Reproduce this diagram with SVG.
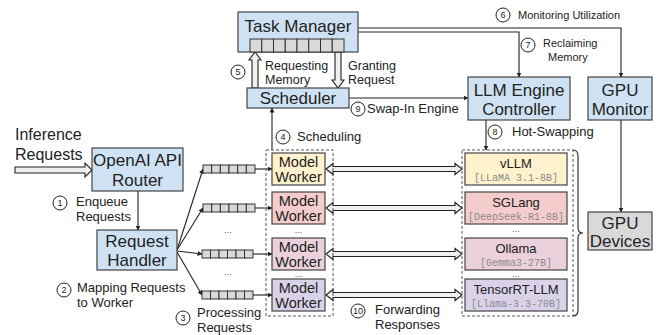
<svg xmlns="http://www.w3.org/2000/svg" width="657" height="335" viewBox="0 0 657 335">
  <defs>
    <marker id="ah" viewBox="0 0 10 10" refX="9" refY="5" markerWidth="5" markerHeight="5" orient="auto-start-reverse" markerUnits="userSpaceOnUse">
      <path d="M0,0 L10,5 L0,10 Z" fill="#222"/>
    </marker>
    <style>
      text { font-family: "Liberation Sans", Arial, sans-serif; fill: #222; }
      .box { stroke: #444; stroke-width: 1.2; }
      .blue { fill: #cfe2f3; }
      .yellow { fill: #fff2cc; }
      .pink { fill: #f4cccc; }
      .mauve { fill: #ead1dc; }
      .lav { fill: #d9d2e9; }
      .gray { fill: #d9d9d9; }
      .big { font-size: 17px; text-anchor: middle; }
      .mid { font-size: 14.5px; text-anchor: middle; }
      .eng { font-size: 13px; text-anchor: middle; }
      .mono { font-family: "Liberation Mono", "Courier New", monospace; font-size: 10px; fill: #8a8a8a; text-anchor: middle; }
      .lbl { font-size: 13px; }
      .lbl2 { font-size: 12.5px; }
      .sm { font-size: 11px; }
      .num { font-size: 9px; text-anchor: middle; }
      .circ { fill: #fff; stroke: #222; stroke-width: 1; }
      .cell { fill: #d9d9d9; stroke: #333; stroke-width: 1; }
      .line { fill: none; stroke: #222; stroke-width: 1.1; }
      .hollow { fill: #f0f0f0; stroke: #222; stroke-width: 1.1; stroke-linejoin: miter; }
      .dash { fill: none; stroke: #555; stroke-width: 1; stroke-dasharray: 3 2; }
      .dots { font-size: 9px; text-anchor: middle; fill: #555; }
    </style>
  </defs>

  <!-- connectors -->
  <g id="connectors">
    <!-- incoming requests -->
    <polygon class="hollow" points="15,167 85,167 85,163 92,170 85,177 85,173 15,173"/>
    <!-- router -> handler -->
    <line class="line" x1="138" y1="191" x2="138" y2="230" marker-end="url(#ah)"/>
    <!-- handler fan-out to queues -->
    <line class="line" x1="177" y1="250" x2="203" y2="169" marker-end="url(#ah)"/>
    <line class="line" x1="177" y1="250" x2="203" y2="208" marker-end="url(#ah)"/>
    <line class="line" x1="177" y1="251" x2="202" y2="254" marker-end="url(#ah)"/>
    <line class="line" x1="177" y1="252" x2="202" y2="295" marker-end="url(#ah)"/>
    <!-- queues -> workers -->
    <line class="line" x1="255" y1="169" x2="272" y2="169" marker-end="url(#ah)"/>
    <line class="line" x1="255" y1="208" x2="272" y2="208" marker-end="url(#ah)"/>
    <line class="line" x1="253" y1="254" x2="272" y2="254" marker-end="url(#ah)"/>
    <line class="line" x1="253" y1="295" x2="272" y2="295" marker-end="url(#ah)"/>
    <!-- scheduling -->
    <line class="line" x1="272" y1="150" x2="272" y2="108" marker-end="url(#ah)"/>
    <!-- requesting memory / granting request -->
    <polygon class="hollow" points="252,88 252,60 249,60 255,52 261,60 258,60 258,88"/>
    <polygon class="hollow" points="335,52 335,80 332,80 338,88 344,80 341,80 341,52"/>
    <!-- monitoring utilization -->
    <polyline class="line" points="358,28 621,28 621,77" marker-end="url(#ah)"/>
    <!-- reclaiming memory -->
    <polyline class="line" points="358,32 519,32 519,77" marker-end="url(#ah)"/>
    <!-- swap-in engine -->
    <line class="line" x1="349" y1="98" x2="468" y2="98" marker-end="url(#ah)"/>
    <!-- hot-swapping -->
    <line class="line" x1="486" y1="120" x2="486" y2="150" marker-end="url(#ah)"/>
    <!-- gpu monitor -> devices -->
    <line class="line" x1="621" y1="120" x2="621" y2="212" marker-end="url(#ah)"/>
    <!-- worker <-> engine -->
    <polygon class="hollow" points="326,169 333,163.5 333,166.5 455,166.5 455,163.5 462,169 455,174.5 455,171.5 333,171.5 333,174.5"/>
    <polygon class="hollow" points="326,208 333,202.5 333,205.5 455,205.5 455,202.5 462,208 455,213.5 455,210.5 333,210.5 333,213.5"/>
    <polygon class="hollow" points="326,254 333,248.5 333,251.5 455,251.5 455,248.5 462,254 455,259.5 455,256.5 333,256.5 333,259.5"/>
    <polygon class="hollow" points="326,295 333,289.5 333,292.5 455,292.5 455,289.5 462,295 455,300.5 455,297.5 333,297.5 333,300.5"/>
    <!-- engines brace -->
    <path class="line" d="M573,150 Q578,150 578,156 L578,228 Q578,233 583,233 Q578,233 578,238 L578,310 Q578,316 573,316"/>
  </g>

  <!-- step labels -->
  <g id="labels">
    <text x="15" y="140" style="font-size:16px">Inference</text>
    <text x="15" y="160" style="font-size:16px">Requests</text>

    <circle class="circ" cx="60" cy="203" r="7"/><text class="num" x="60" y="206">1</text>
    <text class="lbl" x="76" y="206">Enqueue</text>
    <text class="lbl" x="76" y="221">Requests</text>

    <circle class="circ" cx="64" cy="290" r="7"/><text class="num" x="64" y="293">2</text>
    <text class="lbl" x="77" y="292">Mapping Requests</text>
    <text class="lbl" x="77" y="307">to Worker</text>

    <circle class="circ" cx="183" cy="318" r="7"/><text class="num" x="183" y="321">3</text>
    <text class="lbl" x="197" y="317">Processing</text>
    <text class="lbl" x="197" y="332">Requests</text>

    <circle class="circ" cx="283" cy="137" r="7"/><text class="num" x="283" y="140">4</text>
    <text class="lbl" x="297" y="141">Scheduling</text>

    <circle class="circ" cx="238" cy="72" r="7"/><text class="num" x="238" y="75">5</text>
    <text class="lbl2" x="265" y="70">Requesting</text>
    <text class="lbl2" x="265" y="84">Memory</text>
    <text class="lbl2" x="348" y="70">Granting</text>
    <text class="lbl2" x="348" y="84">Request</text>

    <circle class="circ" cx="503" cy="15" r="7"/><text class="num" x="503" y="18">6</text>
    <text class="sm" x="518" y="19">Monitoring Utilization</text>

    <circle class="circ" cx="528" cy="45" r="7"/><text class="num" x="528" y="48">7</text>
    <text class="sm" x="543" y="47">Reclaiming</text>
    <text class="sm" x="548" y="61">Memory</text>

    <circle class="circ" cx="495" cy="132" r="7"/><text class="num" x="495" y="135">8</text>
    <text class="lbl" x="512" y="136">Hot-Swapping</text>

    <circle class="circ" cx="358" cy="109" r="7"/><text class="num" x="358" y="112">9</text>
    <text class="lbl" x="367" y="113">Swap-In Engine</text>

    <circle class="circ" cx="358" cy="311" r="7"/><text class="num" x="358" y="314">10</text>
    <text class="lbl" x="375" y="314">Forwarding</text>
    <text class="lbl" x="375" y="329">Responses</text>
  </g>

  <g id="task-manager">
    <rect class="box blue" x="238" y="12" width="120" height="40"/>
    <text class="big" x="298" y="32">Task Manager</text>
    <g>
      <rect class="cell" x="250" y="39" width="11.75" height="13"/>
      <rect class="cell" x="261.75" y="39" width="11.75" height="13"/>
      <rect class="cell" x="273.5" y="39" width="11.75" height="13"/>
      <rect class="cell" x="285.25" y="39" width="11.75" height="13"/>
      <rect class="cell" x="297" y="39" width="11.75" height="13"/>
      <rect class="cell" x="308.75" y="39" width="11.75" height="13"/>
      <rect class="cell" x="320.5" y="39" width="11.75" height="13"/>
      <rect class="cell" x="332.25" y="39" width="11.75" height="13"/>
    </g>
  </g>

  <g id="scheduler">
    <rect class="box blue" x="247" y="88" width="102" height="20"/>
    <text class="big" x="298" y="104">Scheduler</text>
  </g>

  <g id="llm-engine-controller">
    <rect class="box blue" x="468" y="77" width="102" height="43"/>
    <text class="big" x="519" y="96">LLM Engine</text>
    <text class="big" x="519" y="115">Controller</text>
  </g>

  <g id="gpu-monitor">
    <rect class="box blue" x="588" y="77" width="64" height="43"/>
    <text class="big" x="620" y="96">GPU</text>
    <text class="big" x="620" y="115">Monitor</text>
  </g>

  <g id="router">
    <rect class="box blue" x="92" y="148" width="91" height="43"/>
    <text class="big" x="137.5" y="166">OpenAI API</text>
    <text class="big" x="137.5" y="186">Router</text>
  </g>

  <g id="request-handler">
    <rect class="box blue" x="97" y="230" width="80" height="40"/>
    <text class="big" x="137" y="247">Request</text>
    <text class="big" x="137" y="266">Handler</text>
  </g>

  <g id="queues">
    <g id="queue-1" transform="translate(203,165)">
      <rect class="cell" x="0" y="0" width="8.67" height="8"/><rect class="cell" x="8.67" y="0" width="8.67" height="8"/><rect class="cell" x="17.33" y="0" width="8.67" height="8"/><rect class="cell" x="26" y="0" width="8.67" height="8"/><rect class="cell" x="34.67" y="0" width="8.67" height="8"/><rect class="cell" x="43.33" y="0" width="8.67" height="8"/>
    </g>
    <g id="queue-2" transform="translate(203,204)">
      <rect class="cell" x="0" y="0" width="8.67" height="8"/><rect class="cell" x="8.67" y="0" width="8.67" height="8"/><rect class="cell" x="17.33" y="0" width="8.67" height="8"/><rect class="cell" x="26" y="0" width="8.67" height="8"/><rect class="cell" x="34.67" y="0" width="8.67" height="8"/><rect class="cell" x="43.33" y="0" width="8.67" height="8"/>
    </g>
    <g id="queue-3" transform="translate(202,250)">
      <rect class="cell" x="0" y="0" width="8.5" height="8"/><rect class="cell" x="8.5" y="0" width="8.5" height="8"/><rect class="cell" x="17" y="0" width="8.5" height="8"/><rect class="cell" x="25.5" y="0" width="8.5" height="8"/><rect class="cell" x="34" y="0" width="8.5" height="8"/><rect class="cell" x="42.5" y="0" width="8.5" height="8"/>
    </g>
    <g id="queue-4" transform="translate(202,291)">
      <rect class="cell" x="0" y="0" width="8.5" height="8"/><rect class="cell" x="8.5" y="0" width="8.5" height="8"/><rect class="cell" x="17" y="0" width="8.5" height="8"/><rect class="cell" x="25.5" y="0" width="8.5" height="8"/><rect class="cell" x="34" y="0" width="8.5" height="8"/><rect class="cell" x="42.5" y="0" width="8.5" height="8"/>
    </g>
    <text class="dots" x="228" y="233">...</text>
    <text class="dots" x="228" y="275">...</text>
  </g>

  <g id="model-workers">
    <rect class="dash" x="266" y="150" width="67" height="166"/>
    <g id="worker-1">
      <rect class="box yellow" x="272" y="153" width="53" height="32"/>
      <text class="mid" x="298.5" y="167">Model</text>
      <text class="mid" x="298.5" y="182">Worker</text>
    </g>
    <g id="worker-2">
      <rect class="box pink" x="272" y="192" width="53" height="32"/>
      <text class="mid" x="298.5" y="206">Model</text>
      <text class="mid" x="298.5" y="221">Worker</text>
    </g>
    <g id="worker-3">
      <rect class="box mauve" x="272" y="238" width="53" height="32"/>
      <text class="mid" x="298.5" y="252">Model</text>
      <text class="mid" x="298.5" y="267">Worker</text>
    </g>
    <g id="worker-4">
      <rect class="box lav" x="272" y="279" width="53" height="32"/>
      <text class="mid" x="298.5" y="293">Model</text>
      <text class="mid" x="298.5" y="308">Worker</text>
    </g>
    <text class="dots" x="298.5" y="233">...</text>
    <text class="dots" x="298.5" y="277">...</text>
  </g>

  <g id="engines">
    <rect class="dash" x="462" y="150" width="111" height="166"/>
    <g id="engine-vllm">
      <rect class="box yellow" x="465" y="153" width="102" height="32"/>
      <text class="eng" x="516" y="168">vLLM</text>
      <text class="mono" x="516" y="181">[LLaMA 3.1-8B]</text>
    </g>
    <g id="engine-sglang">
      <rect class="box pink" x="465" y="192" width="102" height="32"/>
      <text class="eng" x="516" y="207">SGLang</text>
      <text class="mono" x="516" y="220">[DeepSeek-R1-8B]</text>
    </g>
    <g id="engine-ollama">
      <rect class="box mauve" x="465" y="238" width="102" height="32"/>
      <text class="eng" x="516" y="253">Ollama</text>
      <text class="mono" x="516" y="266">[Gemma3-27B]</text>
    </g>
    <g id="engine-tensorrt">
      <rect class="box lav" x="465" y="279" width="102" height="32"/>
      <text class="eng" x="516" y="294">TensorRT-LLM</text>
      <text class="mono" x="516" y="307">[Llama-3.3-70B]</text>
    </g>
    <text class="dots" x="516" y="232">...</text>
    <text class="dots" x="516" y="277">...</text>
  </g>

  <g id="gpu-devices">
    <rect class="box gray" x="588" y="212" width="64" height="38"/>
    <text class="big" x="620" y="229">GPU</text>
    <text class="big" x="620" y="247">Devices</text>
  </g>
</svg>
